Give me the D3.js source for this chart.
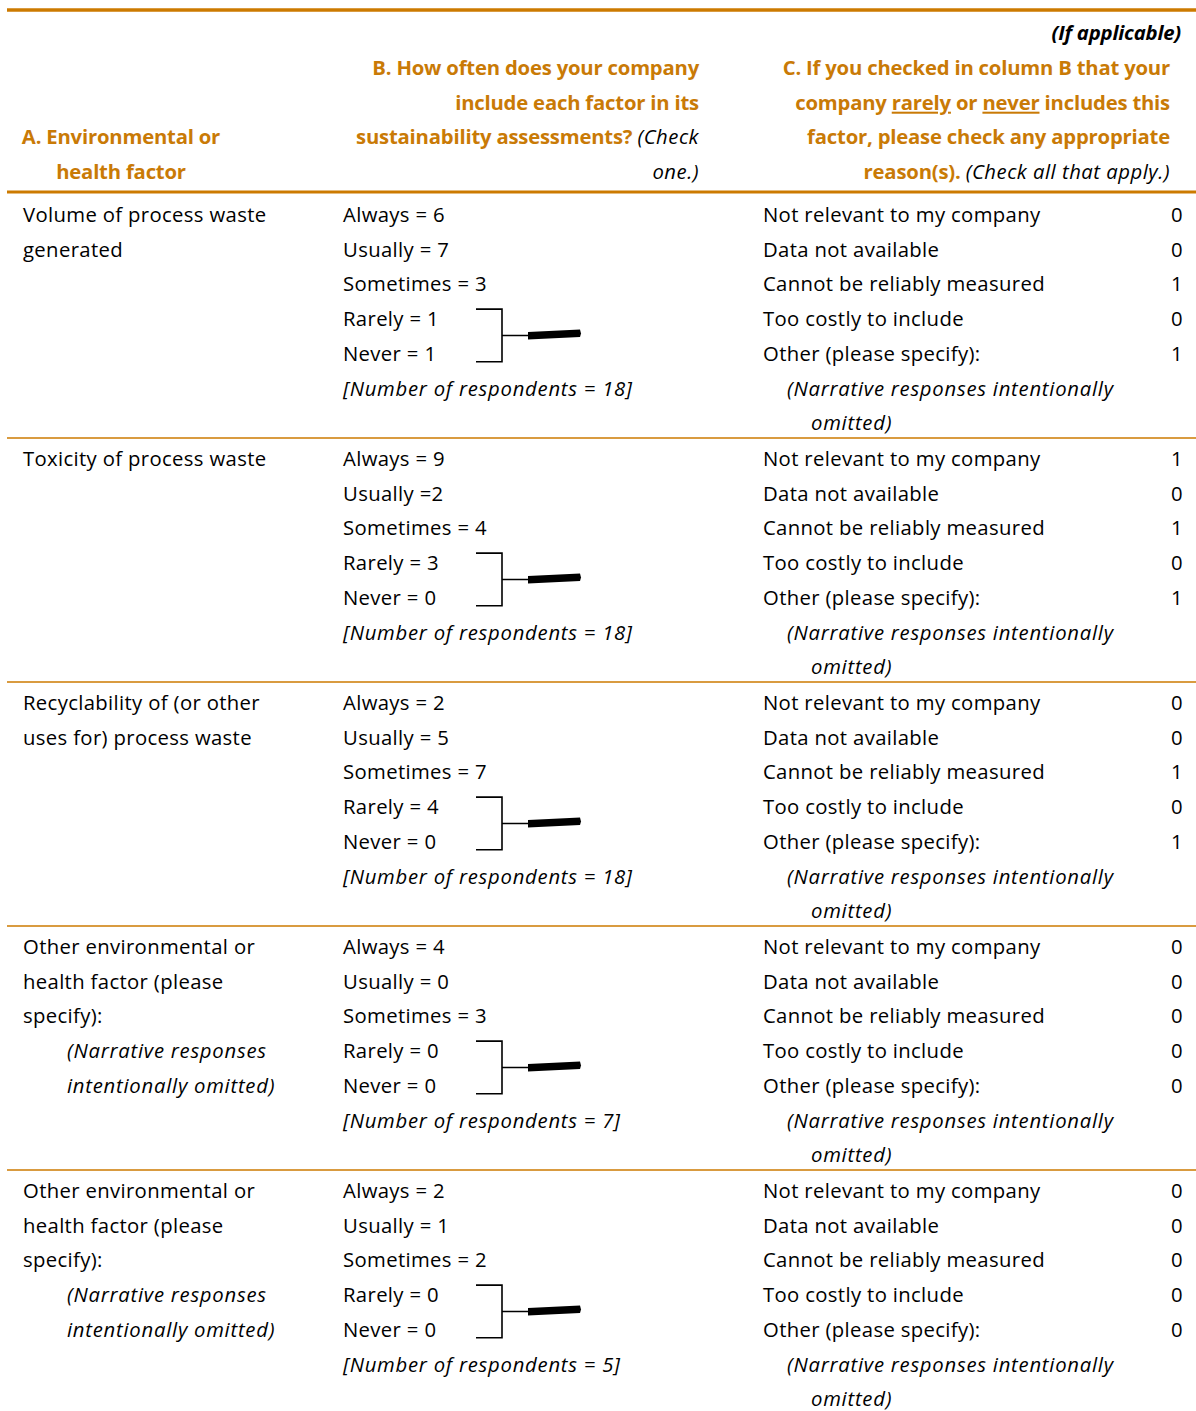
<!DOCTYPE html>
<html>
<head>
<meta charset="utf-8">
<script src="https://cdn.jsdelivr.net/npm/d3@7"></script>
<style>
  body { margin: 0; background: #fff; }
  text { font-family: "Open Sans", Lato, sans-serif; font-size: 20.3px; fill: #000; letter-spacing: 0.35px; }
  .hd text { font-weight: bold; letter-spacing: -0.2px; }
  .it { font-style: italic; letter-spacing: 0.75px; }
  .hd .it { font-weight: normal; letter-spacing: 0.5px; }
</style>
</head>
<body>
<div id="chart"></div>
<script>
var width = 1196
var height = 1411

// table content
var factors = [
  ["Volume of process waste", "generated"],
  ["Toxicity of process waste"],
  ["Recyclability of (or other", "uses for) process waste"],
  ["Other environmental or", "health factor (please", "specify):"],
  ["Other environmental or", "health factor (please", "specify):"]
]
var factorNote = [false, false, false, true, true]

var freqLabels = ["Always", "Usually", "Sometimes", "Rarely", "Never"]
var freqCounts = [
  [6, 7, 3, 1, 1],
  [9, 2, 4, 3, 0],
  [2, 5, 7, 4, 0],
  [4, 0, 3, 0, 0],
  [2, 1, 2, 0, 0]
]
var respondents = [18, 18, 18, 7, 5]

var reasons = ["Not relevant to my company", "Data not available", "Cannot be reliably measured",
  "Too costly to include", "Other (please specify):"]
var reasonCounts = [
  [0, 0, 1, 0, 1],
  [1, 0, 1, 0, 1],
  [0, 0, 1, 0, 1],
  [0, 0, 0, 0, 0],
  [0, 0, 0, 0, 0]
]

var orange = "#c97a06"
var lineColor = "#cc7a00"

var svg = d3.select("#chart")
  .append("svg")
    .attr("width", width)
    .attr("height", height)

// row / line positions
var row = d3.scaleLinear().domain([0, 1]).range([194, 438])
var line = d3.scaleLinear().domain([0, 1]).range([28, 62.7])

// header
svg.append("line")
  .attr("x1", 7).attr("x2", width)
  .attr("y1", 10).attr("y2", 10)
  .attr("stroke", lineColor).attr("stroke-width", 3.5)
svg.append("line")
  .attr("x1", 7).attr("x2", width)
  .attr("y1", 192).attr("y2", 192)
  .attr("stroke", lineColor).attr("stroke-width", 3)

var head = svg.append("g").attr("class", "hd")

head.append("text").attr("x", 1181).attr("y", 40)
  .attr("text-anchor", "end").style("font-style", "italic")
  .text("(If applicable)")

var headA = ["A. Environmental or", "health factor"]
head.selectAll(".ha").data(headA).enter().append("text")
  .attr("x", 121).attr("y", function(d, i) { return 143.5 + i * 35 })
  .attr("text-anchor", "middle").style("fill", orange)
  .text(function(d) { return d })

var hdY = function(i) { return 75 + i * 34.7 }

var headB = ["B. How often does your company", "include each factor in its"]
head.selectAll(".hb").data(headB).enter().append("text")
  .attr("x", 699).attr("y", function(d, i) { return hdY(i) })
  .attr("text-anchor", "end").style("fill", orange)
  .text(function(d) { return d })
var hb3 = head.append("text").attr("x", 699).attr("y", hdY(2)).attr("text-anchor", "end")
hb3.append("tspan").style("fill", orange).text("sustainability assessments? ")
hb3.append("tspan").attr("class", "it").text("(Check")
head.append("text").attr("x", 699).attr("y", hdY(3)).attr("text-anchor", "end")
  .attr("class", "it").text("one.)")

var cx = 1170
head.append("text").attr("x", cx).attr("y", hdY(0)).attr("text-anchor", "end")
  .style("fill", orange).text("C. If you checked in column B that your")
var hc2 = head.append("text").attr("x", cx).attr("y", hdY(1)).attr("text-anchor", "end").style("fill", orange)
hc2.append("tspan").text("company ")
hc2.append("tspan").style("text-decoration", "underline").text("rarely")
hc2.append("tspan").text(" or ")
hc2.append("tspan").style("text-decoration", "underline").text("never")
hc2.append("tspan").text(" includes this")
head.append("text").attr("x", cx).attr("y", hdY(2)).attr("text-anchor", "end")
  .style("fill", orange).text("factor, please check any appropriate")
var hc4 = head.append("text").attr("x", cx).attr("y", hdY(3)).attr("text-anchor", "end")
hc4.append("tspan").style("fill", orange).text("reason(s). ")
hc4.append("tspan").attr("class", "it").text("(Check all that apply.)")

// rows
var rows = svg.selectAll(".row").data(factors).enter().append("g")
  .attr("class", "row")
  .attr("transform", function(d, i) { return "translate(0," + row(i) + ")" })

rows.filter(function(d, i) { return i < factors.length - 1 })
  .append("line")
  .attr("x1", 7).attr("x2", width)
  .attr("y1", 244).attr("y2", 244)
  .attr("stroke", lineColor).attr("stroke-width", 1.6)

// column A
rows.each(function(d, r) {
  var g = d3.select(this)
  g.selectAll(".fa").data(d).enter().append("text")
    .attr("x", 23).attr("y", function(t, i) { return line(i) })
    .text(function(t) { return t })
  if (factorNote[r]) {
    g.selectAll(".fn").data(["(Narrative responses", "intentionally omitted)"]).enter().append("text")
      .attr("x", 67).attr("y", function(t, i) { return line(d.length + i) })
      .attr("class", "it")
      .text(function(t) { return t })
  }
})

// column B
rows.each(function(d, r) {
  var g = d3.select(this)
  g.selectAll(".fb").data(freqCounts[r]).enter().append("text")
    .attr("x", 343).attr("y", function(v, i) { return line(i) })
    .text(function(v, i) {
      var sep = (r === 1 && i === 1) ? " =" : " = "
      return freqLabels[i] + sep + v
    })
  g.append("text")
    .attr("x", 343).attr("y", line(5))
    .attr("class", "it")
    .text("[Number of respondents = " + respondents[r] + "]")

  // bracket round rarely / never pointing to column C
  var yTop = line(3) - 17, yBot = line(4) + 1, yMid = (yTop + yBot) / 2
  g.append("path")
    .attr("d", "M476," + yTop + "H502V" + yBot + "H476M502," + yMid + "H530")
    .attr("fill", "none").attr("stroke", "#000").attr("stroke-width", 1.6)
  g.append("path")
    .attr("d", "M528," + (yMid - 3.5) + "L580," + (yMid - 6) + "L581," + (yMid - 2) + "L580," + (yMid + 1.5) + "L528," + (yMid + 4) + "Z")
    .attr("fill", "#000")
})

// column C
rows.each(function(d, r) {
  var g = d3.select(this)
  g.selectAll(".fc").data(reasons).enter().append("text")
    .attr("x", 763).attr("y", function(t, i) { return line(i) })
    .text(function(t) { return t })
  g.selectAll(".fcn").data(reasonCounts[r]).enter().append("text")
    .attr("x", 1183).attr("y", function(v, i) { return line(i) })
    .attr("text-anchor", "end")
    .text(function(v) { return v })
  g.append("text").attr("x", 787).attr("y", line(5))
    .attr("class", "it").text("(Narrative responses intentionally")
  g.append("text").attr("x", 811).attr("y", line(6))
    .attr("class", "it").text("omitted)")
})
</script>
</body>
</html>
